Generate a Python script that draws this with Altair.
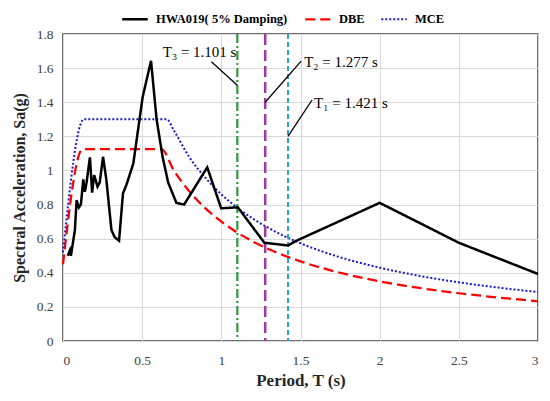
import altair as alt
import pandas as pd

# ---------------- data ----------------
series_names = ["HWA019( 5% Damping)", "DBE", "MCE"]

hwa_T = [0.03, 0.044, 0.05, 0.065, 0.075, 0.086, 0.10, 0.113, 0.128, 0.138, 0.149,
         0.17, 0.184, 0.197, 0.218, 0.232, 0.253, 0.274, 0.306, 0.327, 0.354, 0.379,
         0.40, 0.444, 0.503, 0.556, 0.591, 0.629, 0.664, 0.716, 0.765, 0.911, 0.999,
         1.104, 1.272, 1.422, 1.47, 2.0, 2.5, 3.0]
hwa_Sa = [0.50, 0.533, 0.50, 0.59, 0.65, 0.826, 0.783, 0.80, 0.948, 0.875, 0.93,
          1.077, 0.87, 0.973, 0.905, 0.93, 1.08, 0.944, 0.65, 0.608, 0.588, 0.866,
          0.914, 1.04, 1.43, 1.643, 1.30, 1.08, 0.93, 0.81, 0.80, 1.018, 0.778,
          0.784, 0.576, 0.56, 0.586, 0.81, 0.576, 0.393]

dbe_T = [0.0, 0.124, 0.3, 0.5, 0.622, 0.7, 0.8, 0.9, 1.0, 1.1, 1.2, 1.3, 1.4, 1.5,
         1.75, 2.0, 2.25, 2.5, 2.75, 3.0]
dbe_Sa = [0.45, 1.125, 1.125, 1.125, 1.125, 1.0, 0.875, 0.778, 0.70, 0.636, 0.583,
          0.538, 0.50, 0.467, 0.40, 0.35, 0.311, 0.28, 0.255, 0.233]

mce_T = [0.0, 0.132, 0.3, 0.5, 0.655, 0.7, 0.8, 0.9, 1.0, 1.1, 1.2, 1.3, 1.4, 1.5,
         1.75, 2.0, 2.25, 2.5, 2.75, 3.0]
mce_Sa = [0.52, 1.3, 1.3, 1.3, 1.3, 1.235, 1.075, 0.956, 0.86, 0.782, 0.717, 0.662,
          0.614, 0.573, 0.491, 0.43, 0.382, 0.344, 0.313, 0.287]

period_T = [1.101, 1.277, 1.421]
period_text = ["T\u2083 = 1.101 s", "T\u2082 = 1.277 s", "T\u2081 = 1.421 s"]
# annotation text anchors and leader lines (data coordinates)
label_x = [0.63, 1.523, 1.586]
label_y = [1.694, 1.635, 1.395]
leader_x = [0.937, 1.504, 1.573]
leader_y = [1.637, 1.641, 1.413]
leader_x2 = [1.101, 1.277, 1.421]
leader_y2 = [1.50, 1.40, 1.20]

x_ticks = [0, 0.5, 1, 1.5, 2, 2.5, 3]
y_ticks = [0, 0.2, 0.4, 0.6, 0.8, 1.0, 1.2, 1.4, 1.6, 1.8]

# ---------------- styles ----------------
FONT = "Liberation Serif"
line_colors = ["#000000", "#ff0000", "#1a1acc"]
line_dashes = [[1, 0], [10, 5], [2, 2]]
line_widths = [2.5, 2.0, 1.6]
period_colors = ["#2a9a3a", "#a3379d", "#2ea2c8"]
period_dashes = [[9, 3, 2, 3], [11, 5], [5, 3]]
period_widths = [2.2, 2.5, 2.0]

hwa_df = pd.DataFrame({"T": hwa_T, "Sa": hwa_Sa, "series": series_names[0]})
code_df = pd.concat([
    pd.DataFrame({"T": dbe_T, "Sa": dbe_Sa, "series": series_names[1]}),
    pd.DataFrame({"T": mce_T, "Sa": mce_Sa, "series": series_names[2]}),
])

x_scale = alt.Scale(domain=[0, 3], nice=False, zero=False)
y_scale = alt.Scale(domain=[0, 1.8], nice=False, zero=False)

x_axis = alt.Axis(values=x_ticks, format="~g", title="Period, T (s)", labelOverlap=False,
                  tickCount=7, grid=True, ticks=False, domain=False, labelPadding=12, titlePadding=6)
y_axis = alt.Axis(values=y_ticks, format="~g", labelOverlap=False, tickCount=10,
                  title="Spectral Acceleration, Sa(g)", grid=True, ticks=False, domain=False,
                  labelPadding=10, titlePadding=9, titleFontSize=16)


def X(field="T"):
    return alt.X(f"{field}:Q", scale=x_scale, axis=x_axis)


def Y(field="Sa"):
    return alt.Y(f"{field}:Q", scale=y_scale, axis=y_axis)


legend = alt.Legend(
    orient="none", legendX=58, legendY=-29, direction="horizontal", title=None,
    symbolType="stroke", symbolSize=650, symbolStrokeWidth=2.2,
    labelFont=FONT, labelFontWeight="bold", labelFontSize=12.5, labelColor="#000000",
    columnPadding=12, labelOffset=7, symbolOffset=0,
)

enc_common = dict(
    color=alt.Color("series:N", scale=alt.Scale(domain=series_names, range=line_colors), legend=legend),
    strokeDash=alt.StrokeDash("series:N", scale=alt.Scale(domain=series_names, range=line_dashes), legend=legend),
    strokeWidth=alt.StrokeWidth("series:N", scale=alt.Scale(domain=series_names, range=line_widths), legend=None),
)

code_lines = alt.Chart(code_df).mark_line(interpolate="monotone").encode(
    x=X(), y=Y(), detail="series:N", **enc_common,
)

hwa_line = alt.Chart(hwa_df).mark_line(strokeJoin="miter").encode(
    x=X(), y=Y(), **enc_common,
)

layers = [code_lines]
for i in range(3):
    layers.append(
        alt.Chart(pd.DataFrame({"T": [period_T[i]]})).mark_rule(
            color=period_colors[i], strokeDash=period_dashes[i], strokeWidth=period_widths[i]
        ).encode(x=X())
    )
layers.append(hwa_line)

leader_df = pd.DataFrame({"T": leader_x, "Sa": leader_y, "T2": leader_x2, "Sa2": leader_y2})
leaders = alt.Chart(leader_df).mark_rule(color="#000000", strokeWidth=1.3).encode(
    x=X(), y=Y(), x2="T2:Q", y2="Sa2:Q",
)
label_df = pd.DataFrame({"T": label_x, "Sa": label_y, "text": period_text})
labels = alt.Chart(label_df).mark_text(
    align="left", baseline="middle", font=FONT, fontSize=15, color="#000000"
).encode(x=X(), y=Y(), text="text:N")
layers += [leaders, labels]

chart = alt.layer(*layers).properties(
    width=475, height=307,
    autosize=alt.AutoSizeParams(type="none"),
    padding={"left": 55, "top": 26, "right": 4, "bottom": 50},
).configure(font=FONT).configure_view(
    stroke="#404040", strokeWidth=1.5
).configure_axis(
    gridColor="#d9d9d9", gridWidth=1, labelFont=FONT, labelFontSize=13.5, labelColor="#404040",
    titleFont=FONT, titleFontSize=17, titleFontWeight="bold", titleColor="#262626",
)

chart.save("out.html", embed_options={"renderer": "svg", "actions": False})
